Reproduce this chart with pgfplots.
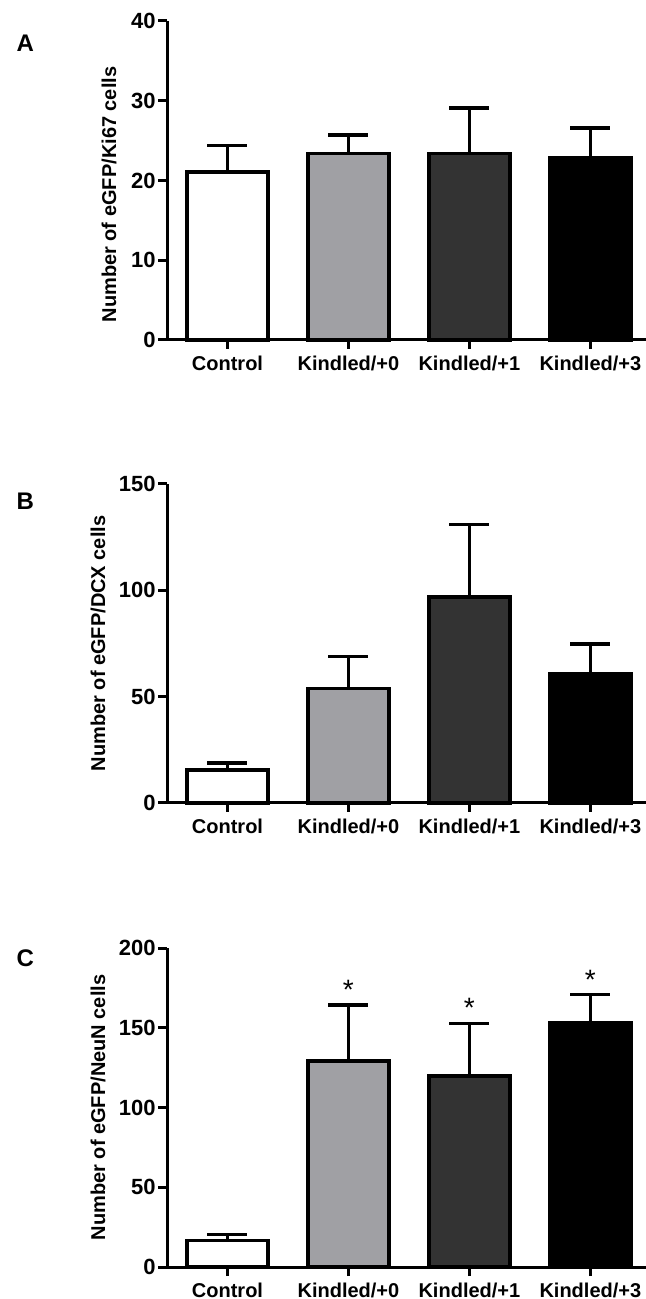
\documentclass[border=0pt]{standalone}
\usepackage{pgfplots}
\pgfplotsset{compat=1.18}
\usepackage{fontspec}
\setmainfont{Liberation Sans}
\definecolor{gK0}{RGB}{160,160,164}
\definecolor{gK1}{RGB}{51,51,51}
\pgfplotsset{
  panel/.style={
    scale only axis, width=239.5pt, height=159.5pt, anchor=south west,
    xmin=-0.5, xmax=3.46, ymin=0,
    axis x line*=bottom, axis y line*=left,
    axis line style={line width=1.5pt, black},
    tick style={line width=1.5pt, black},
    tick align=outside, major tick length=4.5pt,
    xtick={0,1,2,3},
    xticklabels={Control, Kindled/+0, Kindled/+1, Kindled/+3},
    /pgf/number format/assume math mode=true,
    yticklabel style={font=\bfseries\fontsize{11}{12}\selectfont, inner sep=1pt},
    xticklabel style={font=\bfseries\fontsize{10}{12}\selectfont},
    ylabel style={font=\bfseries\fontsize{10}{12}\selectfont, rotate=0, anchor=center},
    clip=false,
  },
  bar/.style={ybar, bar width=0.67, bar shift=0pt, draw=black, line width=1.8pt,
    error bars/y dir=plus, error bars/y explicit,
    error bars/error bar style={line width=1.7pt, black},
    error bars/error mark options={rotate=90, line width=1.7pt, mark size=10pt, black}},
}
\begin{document}
\begin{tikzpicture}
\useasboundingbox (0,0) rectangle (323pt,649.5pt);
% Panel A
\begin{axis}[panel, at={(83.5pt,479.5pt)}, ymax=40, ytick={0,10,20,30,40},
  ylabel={Number of eGFP/Ki67 cells},
  ylabel style={at={(axis description cs:-0.121,0.456)}}]
\addplot[bar, fill=white] coordinates {(0,21.1) +- (0,3.3)};
\addplot[bar, fill=gK0] coordinates {(1,23.4) +- (0,2.3)};
\addplot[bar, fill=gK1] coordinates {(2,23.4) +- (0,5.7)};
\addplot[bar, fill=black] coordinates {(3,22.8) +- (0,3.8)};
\node[font=\bfseries\fontsize{12}{12}\selectfont] at (rel axis cs:-0.296,0.931) {A};
\end{axis}
% Panel B
\begin{axis}[panel, at={(83.5pt,248pt)}, ymax=150, ytick={0,50,100,150},
  ylabel={Number of eGFP/DCX cells},
  ylabel style={at={(axis description cs:-0.144,0.5)}}]
\addplot[bar, fill=white] coordinates {(0,15.4) +- (0,3.4)};
\addplot[bar, fill=gK0] coordinates {(1,53.9) +- (0,14.9)};
\addplot[bar, fill=gK1] coordinates {(2,97.0) +- (0,33.9)};
\addplot[bar, fill=black] coordinates {(3,60.7) +- (0,14.1)};
\node[font=\bfseries\fontsize{12}{12}\selectfont] at (rel axis cs:-0.296,0.947) {B};
\end{axis}
% Panel C
\begin{axis}[panel, at={(83.5pt,16pt)}, ymax=200, ytick={0,50,100,150,200},
  ylabel={Number of eGFP/NeuN cells},
  ylabel style={at={(axis description cs:-0.144,0.5)}}]
\addplot[bar, fill=white] coordinates {(0,16.7) +- (0,3.8)};
\addplot[bar, fill=gK0] coordinates {(1,129.2) +- (0,35.1)};
\addplot[bar, fill=gK1] coordinates {(2,119.7) +- (0,32.9)};
\addplot[bar, fill=black] coordinates {(3,153.2) +- (0,17.8)};
\addplot[draw=none, mark=none, nodes near coords={*},
  every node near coord/.style={anchor=center, inner sep=0pt, yshift=-3pt,
    font=\fontsize{14}{14}\selectfont, black}]
  coordinates {(1,177.6) (2,166) (3,184)};
\node[font=\bfseries\fontsize{12}{12}\selectfont] at (rel axis cs:-0.296,0.969) {C};
\end{axis}
\end{tikzpicture}
\end{document}
